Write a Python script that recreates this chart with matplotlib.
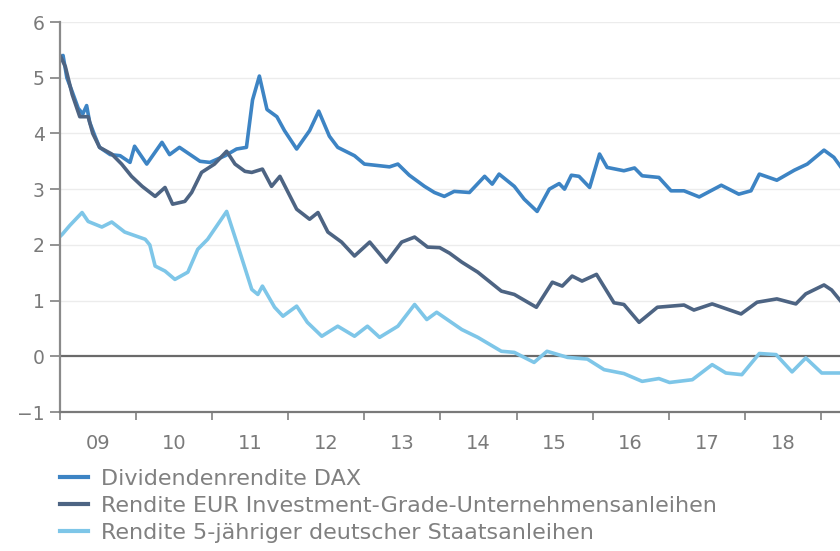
import matplotlib.pyplot as plt
from matplotlib.ticker import FixedLocator, NullFormatter

# Zeitpunkte (Dezimaljahre) und Renditen in %
dax_t = [2009.00, 2009.04, 2009.09, 2009.16, 2009.24, 2009.30, 2009.35, 2009.39, 2009.46,
         2009.52, 2009.66, 2009.79, 2009.92, 2009.98, 2010.14, 2010.34, 2010.44, 2010.57,
         2010.84, 2010.97, 2011.17, 2011.32, 2011.45, 2011.53, 2011.62, 2011.72, 2011.85,
         2011.95, 2012.11, 2012.28, 2012.40, 2012.54, 2012.65, 2012.87, 2013.00, 2013.20,
         2013.33, 2013.44, 2013.59, 2013.79, 2013.92, 2014.05, 2014.18, 2014.38, 2014.58,
         2014.68, 2014.77, 2014.97, 2015.10, 2015.27, 2015.43, 2015.56, 2015.63, 2015.72,
         2015.82, 2015.96, 2016.09, 2016.19, 2016.41, 2016.55, 2016.65, 2016.87, 2017.03,
         2017.20, 2017.40, 2017.69, 2017.92, 2018.08, 2018.19, 2018.42, 2018.65, 2018.82,
         2019.04, 2019.17, 2019.26]
dax_v = [5.35, 5.40, 5.00, 4.75, 4.45, 4.35, 4.50, 4.20, 3.95,
         3.75, 3.62, 3.60, 3.48, 3.77, 3.45, 3.84, 3.62, 3.75,
         3.50, 3.48, 3.60, 3.72, 3.75, 4.60, 5.03, 4.43, 4.30,
         4.05, 3.72, 4.05, 4.40, 3.95, 3.75, 3.60, 3.45, 3.42,
         3.40, 3.45, 3.25, 3.05, 2.94, 2.87, 2.96, 2.94, 3.23,
         3.09, 3.27, 3.05, 2.82, 2.60, 3.00, 3.10, 3.00, 3.25,
         3.23, 3.03, 3.63, 3.39, 3.33, 3.38, 3.24, 3.21, 2.97,
         2.97, 2.86, 3.07, 2.91, 2.97, 3.27, 3.16, 3.34, 3.45,
         3.70, 3.57, 3.40]

corp_t = [2009.00, 2009.07, 2009.16, 2009.26, 2009.37, 2009.43, 2009.52, 2009.68, 2009.81,
          2009.94, 2010.08, 2010.25, 2010.38, 2010.48, 2010.64, 2010.73, 2010.86, 2011.03,
          2011.19, 2011.30, 2011.43, 2011.52, 2011.66, 2011.78, 2011.89, 2012.11, 2012.28,
          2012.39, 2012.52, 2012.70, 2012.87, 2013.07, 2013.29, 2013.49, 2013.66, 2013.83,
          2013.99, 2014.12, 2014.28, 2014.49, 2014.80, 2014.97, 2015.26, 2015.47, 2015.60,
          2015.73, 2015.86, 2016.05, 2016.28, 2016.41, 2016.61, 2016.85, 2017.20, 2017.33,
          2017.57, 2017.95, 2018.16, 2018.42, 2018.67, 2018.80, 2019.04, 2019.14, 2019.26]
corp_v = [5.40, 5.20, 4.70, 4.30, 4.30, 4.00, 3.75, 3.63, 3.45,
          3.23, 3.05, 2.87, 3.03, 2.73, 2.78, 2.94, 3.30, 3.45,
          3.68, 3.45, 3.32, 3.30, 3.36, 3.05, 3.23, 2.64, 2.46,
          2.58, 2.23, 2.05, 1.80, 2.05, 1.69, 2.05, 2.14, 1.96,
          1.95, 1.85, 1.69, 1.51, 1.17, 1.11, 0.88, 1.33, 1.26,
          1.44, 1.35, 1.47, 0.96, 0.93, 0.61, 0.88, 0.92, 0.83,
          0.94, 0.76, 0.97, 1.03, 0.94, 1.12, 1.28, 1.19, 0.99]

bund_t = [2009.00, 2009.03, 2009.13, 2009.29, 2009.37, 2009.55, 2009.68, 2009.85, 2010.12,
          2010.18, 2010.25, 2010.38, 2010.51, 2010.68, 2010.81, 2010.94, 2011.19, 2011.34,
          2011.52, 2011.60, 2011.66, 2011.82, 2011.93, 2012.11, 2012.25, 2012.44, 2012.65,
          2012.87, 2013.04, 2013.20, 2013.44, 2013.66, 2013.82, 2013.95, 2014.28, 2014.49,
          2014.80, 2014.97, 2015.23, 2015.40, 2015.67, 2015.93, 2016.15, 2016.41, 2016.65,
          2016.87, 2017.01, 2017.31, 2017.57, 2017.75, 2017.96, 2018.19, 2018.41, 2018.62,
          2018.80, 2019.01, 2019.26]
bund_v = [2.15, 2.19, 2.35, 2.58, 2.42, 2.32, 2.41, 2.23, 2.10,
          2.00, 1.62, 1.53, 1.38, 1.51, 1.92, 2.10, 2.60, 1.97,
          1.20, 1.11, 1.26, 0.88, 0.72, 0.90, 0.61, 0.36, 0.54,
          0.36, 0.54, 0.34, 0.54, 0.93, 0.66, 0.79, 0.48, 0.34,
          0.09, 0.07, -0.11, 0.09, -0.02, -0.05, -0.24, -0.31, -0.45,
          -0.40, -0.47, -0.42, -0.15, -0.30, -0.33, 0.05, 0.03, -0.28,
          -0.03, -0.30, -0.30]

years = list(range(2009, 2020))
year_labels = ['09', '10', '11', '12', '13', '14', '15', '16', '17', '18']
y_ticks = [-1, 0, 1, 2, 3, 4, 5, 6]

series = [
    (dax_t, dax_v, '#3d84c4', 'Dividendenrendite DAX'),
    (corp_t, corp_v, '#4d6483', 'Rendite EUR Investment-Grade-Unternehmensanleihen'),
    (bund_t, bund_v, '#7ec6e8', 'Rendite 5-jähriger deutscher Staatsanleihen'),
]

plt.rcParams['font.family'] = ['DejaVu Sans']
text_col = '#7a7a7a'

fig = plt.figure(figsize=(8.4, 5.51), dpi=100)
ax = fig.add_axes([60 / 840, 1 - 412 / 551, 1 - 60 / 840, 390 / 551])

for t, v, col, lab in series:
    ax.plot(t, v, color=col, lw=2.6, label=lab, solid_joinstyle='round')

ax.axhline(0, color='#6a6a6a', lw=1.6, zorder=1)
for y in y_ticks[2:]:
    ax.axhline(y, color='#ececec', lw=1.0, zorder=0)

ax.set_xlim(2009.0, 2019.25)
ax.set_ylim(-1, 6)

ax.xaxis.set_major_locator(FixedLocator(years))
ax.xaxis.set_major_formatter(NullFormatter())
ax.xaxis.set_minor_locator(FixedLocator([y + 0.5 for y in years[:-1]]))
ax.set_xticklabels(year_labels, minor=True)
ax.tick_params(axis='x', which='major', direction='out', length=6, width=1.2, color='#808080')
ax.tick_params(axis='x', which='minor', length=0, pad=16, labelsize=14, labelcolor=text_col)

ax.set_yticks(y_ticks)
ax.set_yticklabels(['\u22121' if y < 0 else str(y) for y in y_ticks])
ax.tick_params(axis='y', direction='out', length=7, width=1.2, color='#808080',
               labelsize=13.5, labelcolor=text_col, pad=4)

for s in ['top', 'right']:
    ax.spines[s].set_visible(False)
ax.spines['left'].set_color('#8a8a8a')
ax.spines['left'].set_linewidth(1.6)
ax.spines['bottom'].set_color('#7a7a7a')
ax.spines['bottom'].set_linewidth(1.6)

leg = fig.legend(loc='upper left', bbox_to_anchor=(60 / 840, 1 - 469 / 551), frameon=False,
                 handlelength=1.25, handletextpad=0.6, labelspacing=0.32, fontsize=16,
                 borderaxespad=0, borderpad=0)
for txt in leg.get_texts():
    txt.set_color('#808080')
for h in leg.legend_handles:
    h.set_linewidth(3)

fig.savefig('out.png', dpi=100)
